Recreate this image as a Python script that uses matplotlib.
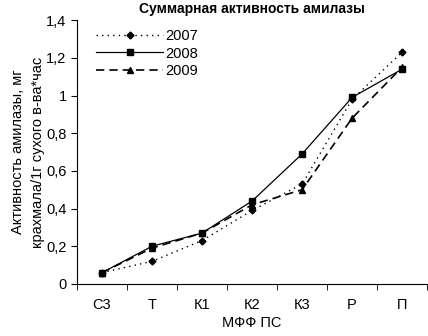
import matplotlib.pyplot as plt
from matplotlib.ticker import FuncFormatter

plt.rcParams['font.family'] = ['Liberation Sans', 'DejaVu Sans']

stages = ["С3", "Т", "К1", "К2", "К3", "Р", "П"]
y2007 = [0.06, 0.12, 0.23, 0.39, 0.53, 0.98, 1.23]
y2008 = [0.06, 0.20, 0.27, 0.44, 0.69, 0.99, 1.14]
y2009 = [0.06, 0.19, 0.27, 0.42, 0.50, 0.88, 1.15]

fig = plt.figure(figsize=(4.28, 3.36), dpi=100)
ax = fig.add_axes([0.18, 0.155, 0.818, 0.785])

x = range(len(stages))
ax.plot(x, y2007, color='black', lw=1, ls=(0, (1, 3)), marker='D', ms=3.5, label='2007')
ax.plot(x, y2008, color='black', lw=0.9, ls='-', marker='s', ms=4.5, label='2008')
ax.plot(x, y2009, color='black', lw=1.2, ls=(0, (5, 3)), marker='^', ms=4.5, label='2009')

ax.set_xlim(-0.5, len(stages) - 0.5)
ax.set_ylim(0, 1.4)
ax.set_yticks([0, 0.2, 0.4, 0.6, 0.8, 1.0, 1.2, 1.4])
ax.yaxis.set_major_formatter(FuncFormatter(lambda v, p: f"{v:g}".replace('.', ',')))
ax.set_xticks(list(x))
ax.set_xticklabels(stages)
ax.set_xticks([i - 0.5 for i in range(len(stages) + 1)], minor=True)
ax.tick_params(axis='x', which='major', length=0, pad=10, labelsize=10.5)
ax.tick_params(axis='x', which='minor', length=4, direction='out')
ax.tick_params(axis='y', length=4, direction='out', labelsize=10.5)

for s in ['top', 'right']:
    ax.spines[s].set_visible(False)

ax.set_title("Суммарная активность амилазы", fontsize=10, fontweight='bold', pad=5)
ax.set_xlabel("МФФ ПС", fontsize=10.5, labelpad=3)
ax.set_ylabel("Активность амилазы, мг\nкрахмала/1г сухого в-ва*час", fontsize=10.5,
              labelpad=1, linespacing=1.5)

ax.legend(loc='upper left', bbox_to_anchor=(0.03, 1.0), frameon=False, fontsize=10.5,
          handlelength=4.6, handletextpad=0.1, labelspacing=0.25, borderaxespad=0.2)

fig.savefig("out.png", dpi=100)
